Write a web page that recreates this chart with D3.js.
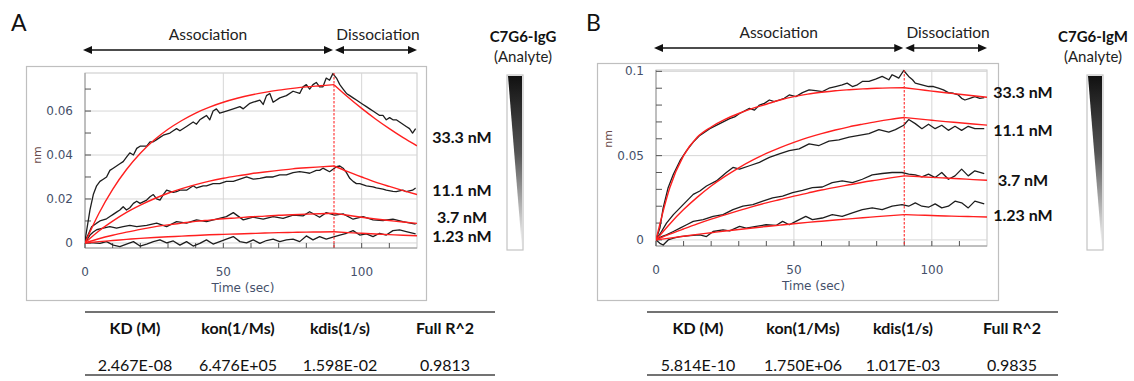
<!DOCTYPE html>
<html><head><meta charset="utf-8">
<script src="https://cdn.jsdelivr.net/npm/d3@7"></script>
<style>body{margin:0;background:#fff;} svg{display:block;}</style>
</head><body>
<svg id="chart" width="1134" height="381"></svg>
<script>
// ---------------- DATA ----------------
const concentrations = ["33.3 nM", "11.1 nM", "3.7 nM", "1.23 nM"];
const phaseLabels = ["Association", "Dissociation"];
const phaseTimes = [0, 90, 120];
const xTickValues = [0, 50, 100];
const xTickLabels = ["0", "50", "100"];
const xMinorTicks = [10, 20, 30, 40, 60, 70, 80, 90, 110];
const igGYTicks = [0, 0.02, 0.04, 0.06];
const igGYTickLabels = ["0", "0.02", "0.04", "0.06"];
const igGYMinor = [0.01, 0.03, 0.05, 0.07];
const igMYTicks = [0, 0.05, 0.1];
const igMYTickLabels = ["0", "0.05", "0.1"];
const igMYMinor = [0.01, 0.02, 0.03, 0.04, 0.06, 0.07, 0.08, 0.09];
const tableHeaders = ["KD (M)", "kon(1/Ms)", "kdis(1/s)", "Full R^2"];
const igGParams = ["2.467E-08", "6.476E+05", "1.598E-02", "0.9813"];
const igMParams = ["5.814E-10", "1.750E+06", "1.017E-03", "0.9835"];

// fitted curves (red), sampled every 5 s
const fitTimes = [0,5,10,15,20,25,30,35,40,45,50,55,60,65,70,75,80,85,90,95,100,105,110,115,120];
const igGFit33 = [0,0.0134,0.0244,0.0334,0.0408,0.0468,0.0517,0.0557,0.0591,0.0618,0.0640,0.0658,0.0673,0.0685,0.0695,0.0703,0.0710,0.0715,0.0720,0.0664,0.0612,0.0564,0.0520,0.0479,0.0442];
const igGFit11 = [0,0.0054,0.0099,0.0139,0.0172,0.0201,0.0226,0.0247,0.0265,0.0281,0.0294,0.0305,0.0315,0.0323,0.0330,0.0337,0.0342,0.0346,0.0350,0.0324,0.0300,0.0277,0.0257,0.0238,0.0220];
const igGFit37 = [0,0.0019,0.0035,0.0049,0.0062,0.0073,0.0082,0.0090,0.0098,0.0104,0.0110,0.0114,0.0119,0.0122,0.0126,0.0128,0.0131,0.0133,0.0135,0.0126,0.0117,0.0109,0.0102,0.0095,0.0089];
const igGFit123 = [0,0.0006,0.0011,0.0016,0.0021,0.0025,0.0028,0.0031,0.0034,0.0037,0.0039,0.0041,0.0043,0.0045,0.0047,0.0048,0.0049,0.0050,0.0051,0.0047,0.0044,0.0041,0.0038,0.0035,0.0033];
const igMFit33 = [0,0.0310,0.0500,0.0610,0.0670,0.0715,0.0750,0.0780,0.0805,0.0830,0.0850,0.0865,0.0876,0.0885,0.0891,0.0896,0.0900,0.0902,0.0903,0.0893,0.0883,0.0873,0.0864,0.0855,0.0846];
const igMFit11 = [0,0.0095,0.0180,0.0254,0.0320,0.0377,0.0428,0.0473,0.0513,0.0548,0.0579,0.0607,0.0631,0.0652,0.0671,0.0687,0.0702,0.0715,0.0726,0.0718,0.0710,0.0702,0.0695,0.0688,0.0681];
const igMFit37 = [0,0.0034,0.0065,0.0095,0.0123,0.0149,0.0174,0.0198,0.0220,0.0240,0.0260,0.0278,0.0296,0.0312,0.0327,0.0342,0.0355,0.0368,0.0380,0.0376,0.0371,0.0367,0.0363,0.0358,0.0354];
const igMFit123 = [0,0.0011,0.0022,0.0033,0.0043,0.0053,0.0062,0.0071,0.0080,0.0088,0.0096,0.0104,0.0111,0.0118,0.0125,0.0132,0.0138,0.0144,0.0150,0.0147,0.0145,0.0142,0.0140,0.0138,0.0136];

// measured traces (black), [time s, response nm]
const igGTrace33 = [[0,0.001],[1.8,0.015],[3.0,0.022],[4.2,0.026],[5.4,0.028],[6.6,0.029],[7.8,0.030],[9.0,0.033],[10.2,0.034],[11.4,0.035],[12.6,0.036],[13.8,0.037],[15.0,0.039],[16.2,0.041],[17.5,0.040],[18.7,0.043],[19.9,0.044],[22.3,0.044],[23.5,0.046],[24.7,0.046],[25.9,0.047],[27.1,0.048],[28.3,0.049],[30.7,0.050],[31.9,0.051],[33.1,0.052],[34.3,0.051],[36.7,0.053],[37.9,0.054],[39.1,0.055],[40.3,0.054],[41.5,0.056],[42.7,0.057],[43.9,0.058],[45.1,0.056],[46.3,0.060],[47.5,0.061],[48.7,0.059],[51.1,0.060],[53.6,0.061],[56.0,0.062],[57.2,0.061],[59.6,0.0635],[60.8,0.064],[63.2,0.065],[64.4,0.063],[65.6,0.067],[66.8,0.068],[68.0,0.064],[70.4,0.066],[72.8,0.067],[75.2,0.069],[77.6,0.068],[78.8,0.071],[80.0,0.072],[81.2,0.070],[82.4,0.072],[83.6,0.073],[84.8,0.071],[86.0,0.071],[87.2,0.075],[88.4,0.074],[89.6,0.077],[90.9,0.075],[92.1,0.072],[93.3,0.070],[94.5,0.068],[95.7,0.067],[96.9,0.066],[98.1,0.065],[99.3,0.064],[100.5,0.063],[101.7,0.062],[102.9,0.061],[104.1,0.060],[105.3,0.059],[106.5,0.058],[107.7,0.058],[108.9,0.056],[110.1,0.057],[111.3,0.056],[112.5,0.056],[113.7,0.055],[114.9,0.054],[116.1,0.053],[117.3,0.052],[118.4,0.050],[119.5,0.052]];
const igGTrace11 = [[0,0.0006],[1.2,0.004],[2.4,0.0074],[4.2,0.009],[5.4,0.010],[6.6,0.0105],[7.8,0.011],[9.0,0.012],[10.2,0.013],[11.4,0.014],[12.6,0.015],[13.8,0.0165],[15.0,0.015],[16.2,0.016],[17.5,0.018],[18.7,0.019],[19.9,0.018],[22.3,0.0195],[23.5,0.021],[24.7,0.022],[25.9,0.020],[27.1,0.0195],[28.3,0.022],[29.5,0.024],[31.9,0.023],[33.1,0.0233],[34.3,0.024],[36.7,0.024],[39.1,0.026],[40.3,0.025],[42.7,0.026],[43.9,0.026],[46.3,0.027],[48.7,0.027],[51.1,0.028],[53.6,0.028],[56.0,0.029],[58.4,0.030],[60.8,0.029],[63.2,0.0294],[65.6,0.030],[68.0,0.030],[70.4,0.031],[72.8,0.031],[75.2,0.032],[77.6,0.0324],[80.0,0.032],[81.2,0.0317],[83.6,0.033],[84.8,0.033],[86.0,0.034],[88.4,0.0324],[90.9,0.0347],[92.1,0.035],[93.3,0.034],[94.5,0.032],[95.7,0.0294],[96.9,0.028],[98.1,0.027],[99.3,0.027],[101.7,0.026],[104.1,0.0255],[105.3,0.025],[107.7,0.0245],[108.9,0.024],[111.3,0.0235],[112.5,0.0233],[114.9,0.024],[116.1,0.0233],[118.4,0.024],[119.5,0.025]];
const igGTrace37 = [[0,0],[1.8,0.0036],[3.0,0.005],[4.2,0.006],[6.6,0.0067],[9.0,0.0074],[11.4,0.0067],[13.8,0.0074],[16.2,0.008],[18.7,0.0074],[22.3,0.008],[25.9,0.009],[29.5,0.0074],[33.1,0.0097],[36.7,0.009],[40.3,0.0105],[43.9,0.0097],[47.5,0.0108],[51.1,0.012],[53.6,0.0138],[57.2,0.0105],[60.8,0.0117],[64.4,0.0108],[68.0,0.012],[71.6,0.0112],[75.2,0.0127],[78.8,0.0123],[81.2,0.0142],[84.8,0.0117],[87.2,0.0138],[90.3,0.0127],[93.3,0.0132],[96.9,0.0108],[100.5,0.012],[104.1,0.0105],[107.7,0.0102],[111.3,0.0108],[114.9,0.0097],[119.5,0.0086]];
const igGTrace123 = [[0,0],[3.0,0],[5.4,-0.0002],[7.8,0.0006],[10.2,-0.001],[12.6,-0.0017],[15.0,-0.0005],[17.5,0.0006],[19.9,-0.0014],[22.3,-0.0005],[24.7,0.0006],[27.1,0.0014],[29.5,0],[31.9,0.0009],[34.3,-0.001],[36.7,0.0006],[39.1,-0.0014],[41.5,-0.0002],[43.9,0.0014],[46.3,-0.0005],[48.7,0.0006],[51.1,0.0017],[53.6,0.0029],[56.0,0.0006],[58.4,0],[60.8,0.0014],[63.2,-0.0002],[65.6,0.0011],[68.0,0.0017],[70.4,0.0006],[72.8,0.0014],[75.2,0.0017],[77.6,0.0006],[80.0,0.0032],[82.4,0.0014],[84.8,0.0029],[87.2,0.0017],[89.6,0.0026],[92.1,0.0036],[94.5,0.0044],[96.9,0.0056],[99.3,0.0036],[101.7,0.0041],[104.1,0.0029],[106.5,0.0044],[108.9,0.0036],[111.3,0.0056],[113.7,0.0059],[116.1,0.0052],[119.5,0.0041]];
const igMTrace33 = [[0,0],[1.4,0.007],[2.6,0.019],[4.4,0.031],[6.3,0.039],[8.7,0.047],[11.1,0.053],[13.5,0.058],[15.9,0.062],[19.5,0.066],[23.1,0.069],[26.7,0.072],[28.5,0.073],[30.3,0.075],[33.9,0.078],[35.7,0.077],[37.5,0.080],[39.3,0.081],[41.1,0.083],[42.9,0.082],[44.7,0.083],[46.5,0.084],[48.3,0.086],[50.7,0.085],[53.1,0.0874],[55.5,0.089],[57.9,0.0886],[60.3,0.088],[62.7,0.090],[65.1,0.091],[67.5,0.092],[69.3,0.093],[71.2,0.091],[73.0,0.092],[74.8,0.094],[77.2,0.094],[79.6,0.0954],[82.0,0.097],[84.4,0.095],[85.6,0.098],[86.8,0.097],[88.0,0.096],[89.8,0.1005],[91.6,0.097],[93.0,0.095],[94.0,0.093],[96.4,0.092],[98.8,0.091],[100.6,0.091],[102.4,0.090],[104.2,0.089],[106.0,0.0874],[107.8,0.087],[109.6,0.086],[110.8,0.084],[112.0,0.083],[113.8,0.084],[115.6,0.085],[117.4,0.084],[119.0,0.0844]];
const igMTrace11 = [[0,0],[2.0,0.005],[3.8,0.010],[6.3,0.015],[8.7,0.019],[11.1,0.023],[13.5,0.027],[15.9,0.029],[18.3,0.032],[21.9,0.035],[25.5,0.040],[27.9,0.043],[30.3,0.042],[33.9,0.044],[37.5,0.046],[41.1,0.049],[44.7,0.051],[48.3,0.053],[51.9,0.054],[55.5,0.057],[59.1,0.056],[62.7,0.0586],[66.3,0.0594],[70.0,0.061],[73.6,0.062],[77.2,0.063],[80.8,0.0654],[84.4,0.064],[86.8,0.0654],[89.8,0.068],[91.6,0.0714],[94.0,0.069],[96.4,0.066],[98.8,0.0686],[101.2,0.066],[103.6,0.068],[106.0,0.065],[108.4,0.0674],[110.8,0.065],[113.2,0.0674],[115.6,0.066],[119.0,0.066]];
const igMTrace37 = [[0,0],[2.0,0.002],[3.8,0.003],[6.3,0.005],[8.7,0.007],[11.1,0.009],[13.5,0.011],[17.1,0.012],[20.7,0.014],[24.3,0.015],[27.9,0.018],[31.5,0.020],[35.1,0.021],[38.7,0.023],[42.3,0.025],[45.9,0.026],[49.5,0.028],[53.1,0.0294],[56.7,0.031],[60.3,0.0314],[63.9,0.034],[67.5,0.035],[71.2,0.034],[74.8,0.036],[78.4,0.0386],[82.0,0.0394],[85.6,0.040],[89.2,0.040],[91.6,0.039],[94.0,0.0386],[96.4,0.0374],[98.8,0.039],[101.2,0.037],[103.6,0.040],[106.0,0.036],[108.4,0.038],[110.8,0.042],[113.2,0.038],[115.6,0.041],[119.0,0.0394]];
const igMTrace123 = [[0,0],[1.4,-0.002],[2.6,-0.003],[4.4,0],[6.3,0.001],[8.7,0.002],[12.3,0.0026],[15.9,0.003],[18.3,0.002],[20.7,0.005],[24.3,0.006],[26.7,0.0054],[30.3,0.008],[32.7,0.007],[36.3,0.008],[39.9,0.009],[43.5,0.0086],[45.9,0.011],[48.3,0.009],[50.7,0.011],[54.3,0.014],[56.7,0.012],[60.3,0.013],[63.9,0.015],[67.5,0.014],[71.2,0.016],[74.8,0.018],[78.4,0.019],[82.0,0.018],[85.6,0.020],[89.2,0.021],[91.6,0.020],[94.0,0.022],[96.4,0.020],[98.8,0.0194],[101.2,0.0214],[103.6,0.019],[106.0,0.020],[108.4,0.023],[110.8,0.022],[113.2,0.019],[115.6,0.023],[119.0,0.0214]];

// ---------------- DRAWING ----------------
const svg = d3.select("#chart");
const defs = svg.append("defs");
const grad = defs.append("linearGradient").attr("id", "wedgeGrad")
  .attr("x1", 0).attr("y1", 0).attr("x2", 0).attr("y2", 1);
grad.append("stop").attr("offset", "0%").attr("stop-color", "#111");
grad.append("stop").attr("offset", "45%").attr("stop-color", "#555");
grad.append("stop").attr("offset", "100%").attr("stop-color", "#fff");

const FONT = "Lato, 'Open Sans', sans-serif";
const AXFONT = "'DejaVu Sans', sans-serif";

function drawPanel(c) {
  const g = svg.append("g");
  g.append("text").attr("x", c.letterX).attr("y", 31).text(c.letter)
    .style("font-family", FONT).style("font-size", "23px").attr("fill", "#111");

  g.append("rect").attr("x", c.frame[0] + 0.5).attr("y", c.frame[1] + 0.5)
    .attr("width", c.frame[2]).attr("height", c.frame[3])
    .attr("fill", "#fff").attr("stroke", "#bfbfbf").attr("stroke-width", 1.2);

  const x = d3.scaleLinear().domain([0, 120]).range([c.px0, c.px1]);
  const y = d3.scaleLinear().domain(c.yDomain).range([c.py1, c.py0]);

  // phase arrows + labels
  const ay = c.arrowY;
  const segs = [[x(phaseTimes[0]) - 2, x(phaseTimes[1]) - 1], [x(phaseTimes[1]) + 1, x(phaseTimes[2])]];
  segs.forEach((s, i) => {
    g.append("line").attr("x1", s[0] + 4).attr("x2", s[1] - 4).attr("y1", ay).attr("y2", ay)
      .attr("stroke", "#111").attr("stroke-width", 1.6);
    g.append("path").attr("d", `M${s[0]},${ay} L${s[0] + 9},${ay - 4} L${s[0] + 9},${ay + 4} Z`).attr("fill", "#111");
    g.append("path").attr("d", `M${s[1]},${ay} L${s[1] - 9},${ay - 4} L${s[1] - 9},${ay + 4} Z`).attr("fill", "#111");
    g.append("text").attr("x", (s[0] + s[1]) / 2 + (i === 0 ? 0 : 2)).attr("y", ay - 10)
      .attr("text-anchor", "middle").text(phaseLabels[i])
      .style("font-family", FONT).style("font-size", "15.5px").attr("fill", "#222");
  });

  // plot area
  const pg = g.append("g");
  pg.append("rect").attr("x", c.px0).attr("y", c.py0).attr("width", c.px1 - c.px0).attr("height", c.py1 - c.py0)
    .attr("fill", "#fff").attr("stroke", "#c8c8c8").attr("stroke-width", 1);
  pg.selectAll(".vg").data(xTickValues.filter(d => d > 0)).join("line")
    .attr("x1", d => x(d)).attr("x2", d => x(d)).attr("y1", c.py0).attr("y2", c.py1)
    .attr("stroke", "#d6d6d6").attr("stroke-width", 1);
  pg.selectAll(".hg").data(c.yTicks).join("line")
    .attr("x1", c.px0).attr("x2", c.px1).attr("y1", d => y(d)).attr("y2", d => y(d))
    .attr("stroke", "#d6d6d6").attr("stroke-width", 1);
  pg.append("line").attr("x1", c.px0).attr("x2", c.px0).attr("y1", c.py0).attr("y2", c.py1)
    .attr("stroke", "#9a9a9a");
  pg.append("line").attr("x1", c.px0).attr("x2", c.px1).attr("y1", c.py1).attr("y2", c.py1)
    .attr("stroke", "#9a9a9a");
  pg.selectAll(".yt").data(c.yTicks.concat(c.yMinor)).join("line")
    .attr("x1", c.px0).attr("x2", c.px0 + 6).attr("y1", d => y(d)).attr("y2", d => y(d))
    .attr("stroke", "#555").attr("stroke-width", 1);
  pg.selectAll(".xt").data(xTickValues.concat(xMinorTicks)).join("line")
    .attr("x1", d => x(d)).attr("x2", d => x(d)).attr("y1", c.py1).attr("y2", c.py1 - 5)
    .attr("stroke", "#555").attr("stroke-width", 1);
  pg.selectAll(".yl").data(c.yTicks).join("text")
    .attr("x", c.px0 - 12).attr("y", d => y(d) + 4).attr("text-anchor", "end")
    .text((d, i) => c.yTickLabels[i])
    .style("font-family", AXFONT).style("font-size", "12px").attr("fill", "#45506a");
  pg.selectAll(".xl").data(xTickValues).join("text")
    .attr("x", d => x(d)).attr("y", c.py1 + 28).attr("text-anchor", "middle")
    .text((d, i) => xTickLabels[i])
    .style("font-family", AXFONT).style("font-size", "12px").attr("fill", "#45506a");
  pg.append("text").attr("x", (x(0) + x(120)) / 2 - 8).attr("y", c.py1 + 44).attr("text-anchor", "middle")
    .text("Time (sec)").style("font-family", AXFONT).style("font-size", "12px").attr("fill", "#45506a");
  pg.append("text").attr("transform", `translate(${c.px0 - 44},${y(c.nmAt)}) rotate(-90)`)
    .attr("text-anchor", "middle").text("nm")
    .style("font-family", AXFONT).style("font-size", "11px").attr("fill", "#6a4a4a");

  const cid = "clip" + c.letter;
  defs.append("clipPath").attr("id", cid).append("rect")
    .attr("x", c.px0).attr("y", c.py0 - 2).attr("width", c.px1 - c.px0).attr("height", c.py1 - c.py0 + 2);
  const dg = pg.append("g").attr("clip-path", `url(#${cid})`);

  const tLine = d3.line().x(d => x(d[0])).y(d => y(d[1]));
  c.traces.forEach(tr => {
    dg.append("path").attr("d", tLine(tr)).attr("fill", "none")
      .attr("stroke", "#1e1e1e").attr("stroke-width", 1.3).attr("stroke-linejoin", "round");
  });
  const fLine = d3.line().curve(d3.curveMonotoneX).x(d => x(d[0])).y(d => y(d[1]));
  const split = fitTimes.indexOf(90);
  c.fits.forEach(f => {
    const pts = fitTimes.map((t, i) => [t, f[i]]);
    [pts.slice(0, split + 1), pts.slice(split)].forEach(seg => {
      dg.append("path").attr("d", fLine(seg)).attr("fill", "none")
        .attr("stroke", "#ff1f1f").attr("stroke-width", 1.4);
    });
  });
  dg.append("line").attr("x1", x(90)).attr("x2", x(90)).attr("y1", c.py0).attr("y2", c.py1)
    .attr("stroke", "#ff2a2a").attr("stroke-width", 1.1).attr("stroke-dasharray", "2.5,1.5");

  concentrations.forEach((lab, i) => {
    g.append("text").attr("x", c.labelX).attr("y", c.labelY[i] + 5.5).attr("text-anchor", "middle")
      .text(lab).style("font-family", FONT).style("font-weight", "bold").style("font-size", "16px").attr("fill", "#111");
  });

  g.append("text").attr("x", c.analyteX).attr("y", 42).attr("text-anchor", "middle").text(c.analyte)
    .style("font-family", FONT).style("font-weight", "bold").style("font-size", "15px").attr("fill", "#111");
  g.append("text").attr("x", c.analyteX).attr("y", 62).attr("text-anchor", "middle").text("(Analyte)")
    .style("font-family", FONT).style("font-size", "15px").attr("fill", "#222");
  const wx0 = c.wedgeX, wx1 = c.wedgeX + 16, wy0 = 75, wy1 = 250;
  g.append("rect").attr("x", wx0).attr("y", wy0).attr("width", wx1 - wx0).attr("height", wy1 - wy0)
    .attr("fill", "#fff").attr("stroke", "#c4c4c4").attr("stroke-width", 1.2);
  g.append("path").attr("d", `M${wx0 + 1},${wy0 + 1} L${wx1 - 1},${wy0 + 1} L${wx1 - 1},${wy1 - 1} Z`)
    .attr("fill", "url(#wedgeGrad)");

  const tg = g.append("g");
  tg.append("line").attr("x1", c.tableX0).attr("x2", c.tableX1).attr("y1", 312).attr("y2", 312)
    .attr("stroke", "#444").attr("stroke-width", 1.6);
  tg.append("line").attr("x1", c.tableX0).attr("x2", c.tableX1).attr("y1", 375).attr("y2", 375)
    .attr("stroke", "#444").attr("stroke-width", 1.6);
  tableHeaders.forEach((h, i) => {
    tg.append("text").attr("x", c.colX[i]).attr("y", 334).attr("text-anchor", "middle").text(h)
      .style("font-family", FONT).style("font-weight", "bold").style("font-size", "16px").attr("fill", "#111");
    tg.append("text").attr("x", c.colX[i]).attr("y", 371).attr("text-anchor", "middle").text(c.params[i])
      .style("font-family", FONT).style("font-size", "16px").attr("fill", "#111");
  });
}

drawPanel({
  letter: "A", letterX: 11, frame: [26, 66, 400, 234],
  px0: 85, px1: 417, py0: 73, py1: 248, yDomain: [-0.0023, 0.0773],
  yTicks: igGYTicks, yTickLabels: igGYTickLabels, yMinor: igGYMinor, nmAt: 0.04,
  arrowY: 50,
  traces: [igGTrace33, igGTrace11, igGTrace37, igGTrace123],
  fits: [igGFit33, igGFit11, igGFit37, igGFit123],
  labelX: 462, labelY: [137, 190, 217, 236],
  analyte: "C7G6-IgG", analyteX: 523, wedgeX: 507,
  tableX0: 85, tableX1: 495, colX: [135, 238, 340, 445], params: igGParams
});
drawPanel({
  letter: "B", letterX: 586, frame: [597, 63, 401, 237],
  px0: 656, px1: 987, py0: 70, py1: 246, yDomain: [-0.0036, 0.1008],
  yTicks: igMYTicks, yTickLabels: igMYTickLabels, yMinor: igMYMinor, nmAt: 0.06,
  arrowY: 48,
  traces: [igMTrace33, igMTrace11, igMTrace37, igMTrace123],
  fits: [igMFit33, igMFit11, igMFit37, igMFit123],
  labelX: 1023, labelY: [92, 130, 180, 215],
  analyte: "C7G6-IgM", analyteX: 1093, wedgeX: 1087,
  tableX0: 647, tableX1: 1058, colX: [698, 803, 903, 1012], params: igMParams
});
</script>
</body></html>
